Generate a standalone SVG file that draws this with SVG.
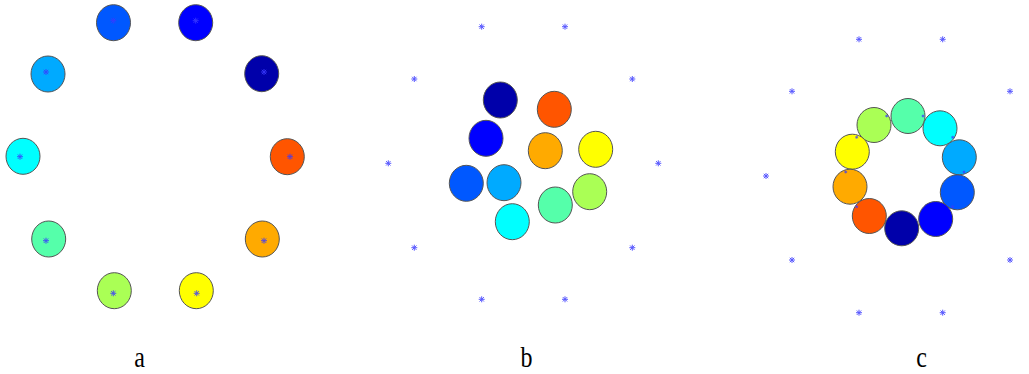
<svg xmlns="http://www.w3.org/2000/svg" xmlns:xlink="http://www.w3.org/1999/xlink" width="1029" height="374" viewBox="0 0 1029 374">
<style>
.c{stroke:#555;stroke-width:1}
.st{stroke:#3a3aff;stroke-width:1;fill:none;opacity:0.85}
.sm{stroke:#3a3aff;stroke-width:0.8;fill:none;opacity:0.8}
.lb{font-family:"Liberation Serif","Times New Roman",serif;font-size:24px;fill:#000;text-anchor:middle}
.k1{fill:#0000AA}.k2{fill:#0000FF}.k3{fill:#0058FF}.k4{fill:#00AAFF}.k5{fill:#00FFFF}
.k6{fill:#55FFAA}.k7{fill:#AAFF55}.k8{fill:#FFFF00}.k9{fill:#FFAA00}.k10{fill:#FF5500}
</style>
<defs>
<path id="star" d="M-3,0H3M0,-3V3M-2.2,-2.2L2.2,2.2M-2.2,2.2L2.2,-2.2"/>
<path id="ss" d="M-1.5,0H1.5M0,-1.5V1.5M-1,-1L1,1M-1,1L1,-1"/>
</defs>
<rect width="1029" height="374" fill="#fff"/>

<!-- panel a -->
<g id="panel-a">
<g id="a-n1"><ellipse class="c k3" cx="113.5" cy="22.7" rx="17" ry="18"/></g>
<g id="a-n2"><ellipse class="c k2" cx="195.7" cy="22.7" rx="17" ry="18"/></g>
<g id="a-n3"><ellipse class="c k1" cx="261.7" cy="73.7" rx="17" ry="18"/></g>
<g id="a-n4"><ellipse class="c k10" cx="287.3" cy="156.7" rx="17" ry="18"/></g>
<g id="a-n5"><ellipse class="c k9" cx="262.3" cy="239" rx="17" ry="18"/></g>
<g id="a-n6"><ellipse class="c k8" cx="196.3" cy="290.7" rx="17" ry="18"/></g>
<g id="a-n7"><ellipse class="c k7" cx="114.3" cy="290.7" rx="17" ry="18"/></g>
<g id="a-n8"><ellipse class="c k6" cx="48.7" cy="239" rx="17" ry="18"/></g>
<g id="a-n9"><ellipse class="c k5" cx="23" cy="156.3" rx="17" ry="18"/></g>
<g id="a-n10"><ellipse class="c k4" cx="48" cy="74" rx="17" ry="18"/></g>
<g class="st">
<use xlink:href="#star" x="113.3" y="20.7"/>
<use xlink:href="#star" x="195.7" y="20.7"/>
<use xlink:href="#star" x="264" y="72"/>
<use xlink:href="#star" x="290" y="156.7"/>
<use xlink:href="#star" x="264" y="240.7"/>
<use xlink:href="#star" x="196.7" y="293.3"/>
<use xlink:href="#star" x="113.3" y="293.3"/>
<use xlink:href="#star" x="46" y="240.7"/>
<use xlink:href="#star" x="20" y="156.7"/>
<use xlink:href="#star" x="46" y="72"/>
</g>
<text class="lb" transform="translate(139.5,367) scale(1,1.2)">a</text>
</g>

<!-- panel b -->
<g id="panel-b">
<g class="st">
<use xlink:href="#star" x="481.7" y="26.7"/>
<use xlink:href="#star" x="565" y="26.7"/>
<use xlink:href="#star" x="414.3" y="79"/>
<use xlink:href="#star" x="632.3" y="79"/>
<use xlink:href="#star" x="388.3" y="163.3"/>
<use xlink:href="#star" x="658.3" y="163.3"/>
<use xlink:href="#star" x="414.3" y="247.7"/>
<use xlink:href="#star" x="632.3" y="247.7"/>
<use xlink:href="#star" x="481.7" y="299.3"/>
<use xlink:href="#star" x="565" y="299.3"/>
</g>
<g id="b-n1"><ellipse class="c k1" cx="500.3" cy="100" rx="17" ry="18"/></g>
<g id="b-n2"><ellipse class="c k10" cx="554.3" cy="109.3" rx="17" ry="18"/></g>
<g id="b-n3"><ellipse class="c k2" cx="486" cy="138.3" rx="17" ry="18"/></g>
<g id="b-n4"><ellipse class="c k9" cx="545.3" cy="150.7" rx="17" ry="18"/></g>
<g id="b-n5"><ellipse class="c k8" cx="595.7" cy="149.3" rx="17" ry="18"/></g>
<g id="b-n6"><ellipse class="c k3" cx="466.3" cy="183.3" rx="17" ry="18"/></g>
<g id="b-n7"><ellipse class="c k4" cx="504" cy="182.7" rx="17" ry="18"/></g>
<g id="b-n8"><ellipse class="c k7" cx="589.7" cy="191.7" rx="17" ry="18"/></g>
<g id="b-n9"><ellipse class="c k6" cx="555.3" cy="205" rx="17" ry="18"/></g>
<g id="b-n10"><ellipse class="c k5" cx="512.3" cy="221.7" rx="17" ry="18"/></g>
<text class="lb" transform="translate(526.5,367) scale(1,1.2)">b</text>
</g>

<!-- panel c -->
<g id="panel-c">
<g class="st">
<use xlink:href="#star" x="859" y="39.3"/>
<use xlink:href="#star" x="942.7" y="39.3"/>
<use xlink:href="#star" x="792" y="91.3"/>
<use xlink:href="#star" x="1010" y="91.3"/>
<use xlink:href="#star" x="766" y="176"/>
<use xlink:href="#star" x="1032" y="176"/>
<use xlink:href="#star" x="792" y="260"/>
<use xlink:href="#star" x="1010" y="260"/>
<use xlink:href="#star" x="859" y="312.7"/>
<use xlink:href="#star" x="942.7" y="312.7"/>
</g>
<g id="c-n1"><ellipse class="c k6" cx="908" cy="116" rx="17" ry="17.5"/></g>
<g id="c-n2"><ellipse class="c k7" cx="874" cy="125" rx="17" ry="17.5"/></g>
<g id="c-n3"><ellipse class="c k5" cx="940" cy="128.3" rx="17" ry="17.5"/></g>
<g id="c-n4"><ellipse class="c k8" cx="852.3" cy="151.7" rx="17" ry="17.5"/></g>
<g id="c-n5"><ellipse class="c k4" cx="959.3" cy="157.3" rx="17" ry="17.5"/></g>
<g id="c-n6"><ellipse class="c k9" cx="850" cy="186.7" rx="17" ry="17.5"/></g>
<g id="c-n7"><ellipse class="c k3" cx="957.3" cy="192.3" rx="17" ry="17.5"/></g>
<g id="c-n8"><ellipse class="c k10" cx="869.3" cy="216" rx="17" ry="17.5"/></g>
<g id="c-n9"><ellipse class="c k2" cx="935.7" cy="219" rx="17" ry="17.5"/></g>
<g id="c-n10"><ellipse class="c k1" cx="901.7" cy="228.3" rx="17" ry="17.5"/></g>
<g class="sm">
<use xlink:href="#ss" x="886.7" y="116"/>
<use xlink:href="#ss" x="923" y="116"/>
<use xlink:href="#ss" x="952.7" y="137.3"/>
<use xlink:href="#ss" x="964" y="172"/>
<use xlink:href="#ss" x="856.7" y="137.3"/>
<use xlink:href="#ss" x="845.7" y="172"/>
<use xlink:href="#ss" x="856.7" y="206.7"/>
<use xlink:href="#ss" x="952.7" y="206.7"/>
</g>
<text class="lb" transform="translate(921.5,367) scale(1,1.2)">c</text>
</g>
</svg>
